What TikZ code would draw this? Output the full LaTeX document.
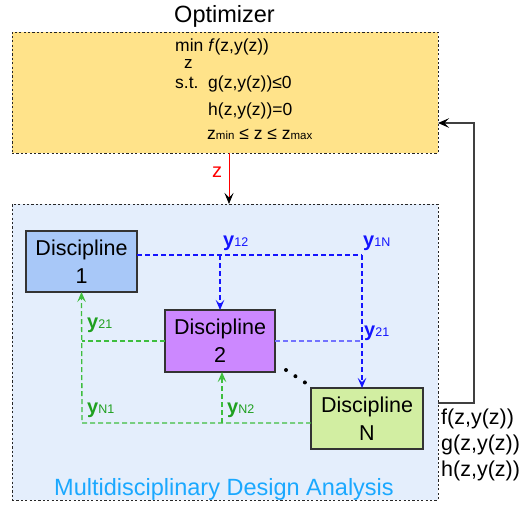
\documentclass[tikz,border=0pt]{standalone}
\usepackage{fontspec}
\setmainfont{Liberation Sans}
\usetikzlibrary{arrows.meta}
\definecolor{optyellow}{HTML}{FFE38A}
\definecolor{mdabg}{HTML}{E4EEFC}
\definecolor{dOne}{HTML}{A8C8F8}
\definecolor{dTwo}{HTML}{CC88FF}
\definecolor{dEn}{HTML}{D2EEA2}
\definecolor{lblue}{HTML}{1414FF}
\definecolor{lgreen}{HTML}{3EBE3E}
\definecolor{tgreen}{HTML}{1FA01F}
\definecolor{mdatext}{HTML}{1AA8FF}
\newcommand\fsz[1]{\fontsize{#1}{#1}\selectfont}
\begin{document}
\begin{tikzpicture}[x=1pt,y=-1pt,
  bigbox/.style={draw=black!85, line width=0.9pt, dash pattern=on 2.2pt off 2.2pt, inner sep=0pt, outer sep=0pt, anchor=north west},
  disc/.style={draw=black!80, line width=1.1pt, inner sep=0pt, outer sep=0pt, align=center, font=\fontsize{21.5}{28}\selectfont},
  tip/.style={-{Stealth[length=10pt,width=8.5pt,inset=4pt]}},
  bline/.style={draw=lblue, line width=1.3pt, dash pattern=on 5pt off 3pt},
  gline/.style={draw=lgreen, line width=1.3pt, dash pattern=on 5pt off 3pt},
  txt/.style={inner sep=0pt, anchor=base west},
  lab/.style={inner sep=0pt, anchor=base west, font=\fsz{20}\bfseries},
]
\useasboundingbox (0,0) rectangle (521,504);
% boxes
\node[bigbox, fill=optyellow, minimum width=426pt, minimum height=121pt] (opt) at (12,32) {};
\node[bigbox, fill=mdabg, minimum width=426pt, minimum height=296pt] (mda) at (12,204) {};
\node[txt, anchor=base, font=\fsz{23.5}] (optt) at (224.5,22) {Optimizer};
\node[txt, anchor=base, font=\fsz{23.5}, text=mdatext] (mdat) at (224,495) {Multidisciplinary Design Analysis};
% formula
\node[txt, font=\fsz{17.5}] (f1) at (175,51) {min \textit{f}(z,y(z))};
\node[txt, font=\fsz{17}] (f1z) at (184,68) {z};
\node[txt, font=\fsz{17.5}] (f2a) at (175,88) {s.t.};
\node[txt, font=\fsz{17.5}] (f2b) at (208,88) {g(z,y(z))≤0};
\node[txt, font=\fsz{17.5}] (f3) at (208,115) {h(z,y(z))=0};
\node[txt, font=\fsz{17.5}] (f4) at (207,139) {z{\fsz{11.5}min} ≤ z ≤ z{\fsz{11.5}max}};
% disciplines
\node[disc, fill=dOne, minimum width=111pt, minimum height=61pt] (d1) at (81.5,261.5) {Discipline\\1};
\node[disc, fill=dTwo, minimum width=110pt, minimum height=62pt] (d2) at (220,341) {Discipline\\2};
\node[disc, fill=dEn, minimum width=112pt, minimum height=61pt] (dN) at (367,418.5) {Discipline\\N};
% z arrow
\coordinate (zt) at (229,153);
\draw[draw=red, line width=0.8pt, -{Stealth[length=11pt,width=9pt,inset=4.5pt,color=black]}] (zt) -- (zt |- mda.north);
\node[txt, font=\fsz{20}, text=red] (zl) at (212,177) {z};
% blue couplings
\coordinate (b1) at (220,255);
\coordinate (b2) at (362,255);
\draw[bline] ([yshift=6.5pt]d1.east) -- (b2);
\draw[bline, tip] (b1) -- (d2.north);
\draw[bline, tip] (b2) -- (b2 |- dN.north);
\draw[bline, draw=lblue!60] (d2.east) -- (d2.east -| b2);
% green couplings
\coordinate (g2) at (82,423);
\coordinate (g3) at (222,423);
\draw[gline, tip] ([yshift=-4.5pt]dN.west) -- (g2) -- (d1.south);
\draw[gline] (d2.west) -- (d2.west -| g2);
\draw[gline, tip] (g3) -- (g3 |- d2.south);
% labels
\node[lab, text=lblue] (l12) at (223,246) {y{\fsz{12.5}\mdseries 12}};
\node[lab, text=lblue] (l1N) at (363,246) {y{\fsz{12.5}\mdseries 1N}};
\node[lab, text=lblue] (l21b) at (364,336) {y{\fsz{12.5}\mdseries 21}};
\node[lab, text=tgreen] (l21g) at (87,328) {y{\fsz{12.5}\mdseries 21}};
\node[lab, text=tgreen] (lN1) at (87,413) {y{\fsz{12.5}\mdseries N1}};
\node[lab, text=tgreen] (lN2) at (227,413) {y{\fsz{12.5}\mdseries N2}};
% dots
\draw[line width=4pt, line cap=round, dash pattern=on 0pt off 11.3pt] (286,370) -- (306.5,383.5);
% feedback
\coordinate (fb1) at (474,403);
\coordinate (fb2) at (474,123);
\draw[draw=black!75, line width=1.1pt, -{Stealth[length=11pt,width=9.5pt,inset=4.5pt,color=black]}] (mda.east |- fb1) -- (fb1) -- (fb2) -- (fb2 -| opt.east);
\node[txt, font=\fsz{21.5}] (rf) at (441,424) {f(z,y(z))};
\node[txt, font=\fsz{21.5}] (rg) at (441,450) {g(z,y(z))};
\node[txt, font=\fsz{21.5}] (rh) at (441,476) {h(z,y(z))};
\end{tikzpicture}
\end{document}
